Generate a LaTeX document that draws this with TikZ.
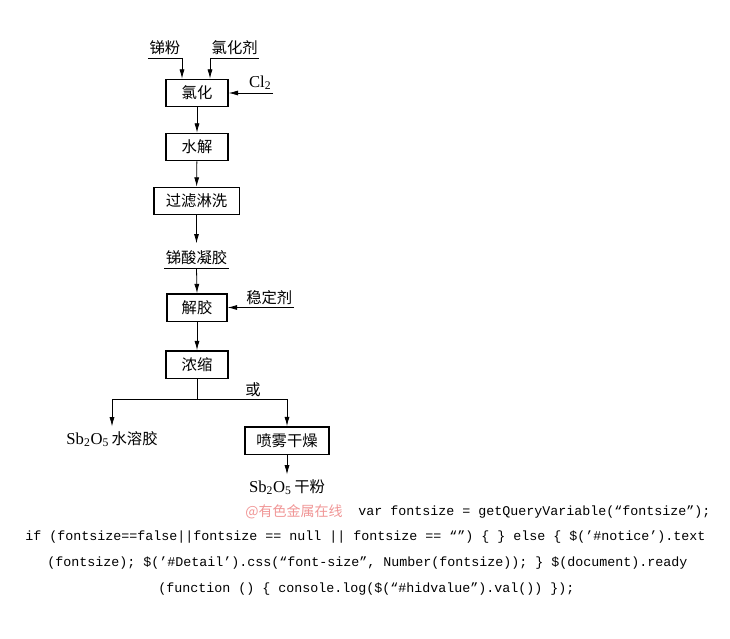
\documentclass[tikz,border=0pt]{standalone}
\usepackage{fontspec}
\setmainfont{Liberation Serif}
\setmonofont{Liberation Mono}
\newfontfamily\cjk{Noto Sans CJK SC}
\usetikzlibrary{arrows.meta}
\newcommand{\sbo}{Sb\textsubscript{2}O\textsubscript{5}}
\definecolor{wmpink}{RGB}{240,150,150}
\begin{document}
\begin{tikzpicture}[x=0.75pt,y=-0.75pt,line width=0.6pt,
  every node/.style={font=\fontsize{11.5}{13}\selectfont\cjk},
  proc/.style={draw,line width=1pt,minimum height=20.5pt,inner sep=2pt},
  feed/.style={inner xsep=1pt,inner ysep=2pt},
  arr/.style={-{Latex[length=7pt,width=3.8pt]}},
  code/.style={anchor=west,inner sep=0pt,font=\fontsize{10}{12}\selectfont\ttfamily}]
\useasboundingbox (0,0) rectangle (730,638);
% process boxes
\node[proc,minimum width=46.5pt] (chl) at (197,93) {氯化};
\node[proc,minimum width=46.5pt] (hyd) at (197,147) {水解};
\node[proc,minimum width=64pt] (filt) at (196.5,201) {过滤淋洗};
\node[proc,minimum width=45pt] (pep) at (197,307.5) {解胶};
\node[proc,minimum width=46.5pt] (conc) at (197,364.5) {浓缩};
\node[proc,minimum width=63pt] (spray) at (287,440.5) {喷雾干燥};
% feeds and products
\node[feed,anchor=south east] (sb) at (182,58) {锑粉};
\node[feed,anchor=south west] (agent) at (210,58) {氯化剂};
\node[feed,anchor=south east,font=\fontsize{12.5}{14}\selectfont] (cl) at (273,93) {Cl\textsubscript{2}};
\node[feed] (gel) at (196.5,258) {锑酸凝胶};
\node[feed,anchor=south east] (stab) at (294,307.5) {稳定剂};
\node (sol) at (112,439) {{\rmfamily\fontsize{12.5}{14}\selectfont\sbo}\,水溶胶};
\node (powder) at (287,487) {{\rmfamily\fontsize{12.5}{14}\selectfont\sbo}\,干粉};
\node (or) at (253,390) {或};
\coordinate (split) at (197,399);
% connectors
\draw (sb.south west) -- (sb.south east);
\draw (agent.south west) -- (agent.south east);
\draw (gel.south west) -- (gel.south east);
\draw[arr] (sb.south east) -- (sb.south east |- chl.north);
\draw[arr] (agent.south west) -- (agent.south west |- chl.north);
\draw[arr] (cl.south east) -- (chl.east);
\draw[arr] (chl) -- (hyd);
\draw[arr] (hyd) -- (filt);
\draw[arr] (filt.south) -- ++(0,28);
\draw[arr] (gel.south) -- (pep.north);
\draw[arr] (stab.south east) -- (pep.east);
\draw[arr] (pep) -- (conc);
\draw (conc.south) -- (split);
\draw[arr] (split) -| (sol.north);
\draw[arr] (split) -| (spray.north);
\draw[arr] (spray) -- (powder);
% page residue
\node[anchor=west,inner sep=0pt,text=wmpink,font=\fontsize{10.5}{12}\selectfont\cjk] (wm) at (245,512) {@有色金属在线};
\node[code] (c1) at (358,512) {var fontsize = getQueryVariable(“fontsize”);};
\node[code] (c2) at (25,537) {if (fontsize==false||fontsize == null || fontsize == “”) \{ \} else \{ \$(’\#notice’).text};
\node[code] (c3) at (47,563) {(fontsize); \$(’\#Detail’).css(“font-size”, Number(fontsize)); \} \$(document).ready};
\node[code] (c4) at (158,589) {(function () \{ console.log(\$(“\#hidvalue”).val()) \});};
\end{tikzpicture}
\end{document}
